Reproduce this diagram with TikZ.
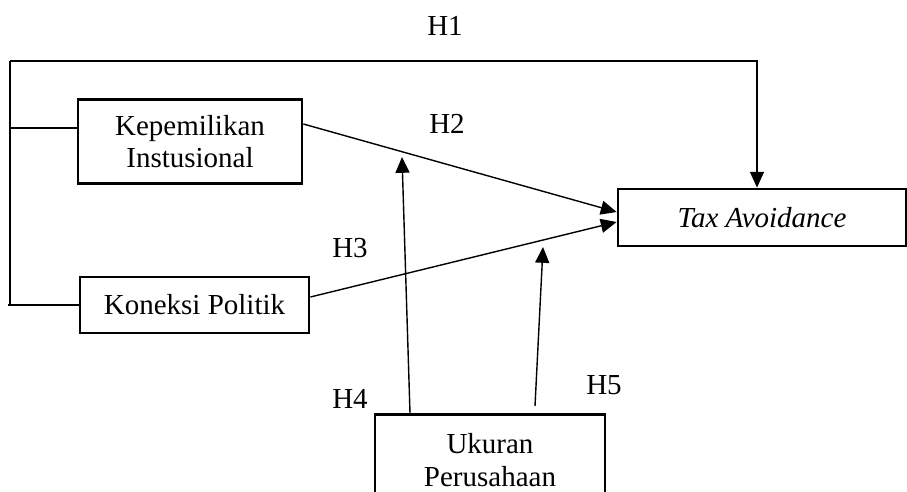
\documentclass[tikz,border=0pt]{standalone}
\usepackage{fontspec}
\setmainfont{Liberation Serif}
\usepackage{tikz}
\usetikzlibrary{arrows.meta}

\tikzset{
  box/.style={draw, line width=1.6pt, align=center, font=\fontsize{16.5}{18.5}\selectfont},
  hyp/.style={font=\fontsize{16.5}{18.5}\selectfont},
  arr/.style={line width=0.8pt, -{Triangle[length=9pt,width=8pt]}},
  ln/.style={line width=0.8pt}
}

\begin{document}
\begin{tikzpicture}[x=0.02cm,y=-0.02cm]
    \useasboundingbox (0,0) rectangle (907,491);
    % boxes
    \node[box, minimum width=4.48cm, minimum height=1.68cm] (kep) at (190,141.5) {Kepemilikan\\Instusional};
    \node[box, minimum width=4.58cm, minimum height=1.12cm] (kon) at (194.5,305) {Koneksi Politik};
    \node[box, minimum width=5.76cm, minimum height=1.14cm] (tax) at (762,217.5) {\textit{Tax Avoidance}};
    \node[box, minimum width=4.6cm, inner ysep=11pt, anchor=north] (uku) at (490,413) {Ukuran\\Perusahaan};
    % labels
    \node[hyp] (h1) at (445,26) {H1};
    \node[hyp] (h2) at (447,124) {H2};
    \node[hyp] (h3) at (350,248) {H3};
    \node[hyp] (h4) at (350,399) {H4};
    \node[hyp] (h5) at (604,385) {H5};
    % left line
    \coordinate (top) at (10,61);
    \coordinate (bot) at (10,305);
    \coordinate (turn) at (757,61);
    \draw[ln] (bot) -- (top);
    \draw[arr] (top) -- (turn) -- (turn |- tax.north);
    \draw[ln] (10,128) coordinate (k) -- (k -| kep.west);
    \draw[ln] (8,305) coordinate (p) -- (kon.west);
    % paths to tax
    \draw[arr] ([yshift=0.35cm]kep.east) -- ([yshift=0.11cm]tax.west);
    \draw[arr] ([yshift=0.16cm]kon.east) -- ([yshift=-0.09cm]tax.west);
    % moderation
    \coordinate (m1) at (410,413);
    \coordinate (m2) at (402,157);
    \coordinate (m3) at (535,406);
    \coordinate (m4) at (543,247);
    \draw[arr] (m1) -- (m2);
    \draw[arr] (m3) -- (m4);
\end{tikzpicture}
\end{document}
